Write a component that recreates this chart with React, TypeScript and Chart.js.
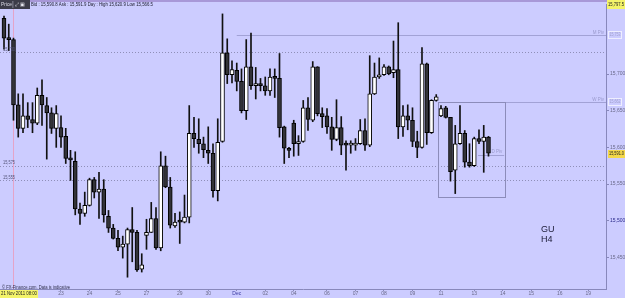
import { useEffect, useRef } from "react";
import { Chart, registerables } from "chart.js";
Chart.register(...registerables);

const opens = [15776,15749,15747,15658,15626,15643,15638,15633,15671,15657,15647,15626,15627,15615,15585,15581,15516,15510,15521,15556,15539,15543,15506,15490,15476,15464,15468,15488,15484,15434,15480,15484,15503,15463,15575,15546,15493,15499,15498,15505,15619,15611,15605,15596,15592,15541,15608,15729,15699,15705,15690,15650,15710,15684,15687,15684,15677,15696,15694,15628,15597,15633,15605,15608,15654,15637,15710,15646,15643,15628,15611,15627,15605,15603,15603,15605,15623,15603,15673,15696,15699,15710,15702,15706,15628,15643,15637,15608,15600,15714,15620,15664,15643,15654,15641,15569,15605,15619,15580,15575,15612,15608,15614];
const highs = [15779,15768,15749,15673,15673,15661,15661,15681,15692,15668,15654,15657,15643,15626,15596,15594,15524,15539,15558,15559,15566,15556,15514,15495,15487,15479,15490,15518,15487,15455,15502,15525,15518,15594,15588,15559,15510,15512,15535,15657,15641,15639,15614,15628,15605,15639,15782,15748,15718,15715,15707,15747,15756,15709,15694,15696,15707,15707,15728,15629,15600,15637,15616,15664,15668,15717,15710,15654,15653,15641,15665,15642,15609,15609,15612,15638,15639,15725,15715,15722,15713,15711,15745,15770,15657,15658,15654,15622,15736,15715,15665,15672,15657,15656,15641,15630,15657,15623,15605,15614,15624,15630,15615];
const lows = [15734,15732,15637,15614,15620,15627,15620,15631,15630,15584,15619,15600,15600,15578,15555,15508,15495,15506,15520,15531,15503,15498,15484,15475,15459,15449,15423,15444,15431,15430,15461,15484,15461,15459,15545,15490,15491,15469,15497,15497,15600,15592,15586,15578,15532,15527,15607,15687,15688,15677,15647,15638,15679,15666,15677,15671,15671,15668,15614,15578,15586,15588,15589,15607,15623,15635,15643,15627,15619,15596,15609,15590,15569,15592,15596,15604,15596,15601,15672,15694,15698,15699,15695,15612,15615,15624,15601,15586,15599,15604,15619,15663,15642,15640,15554,15537,15604,15573,15573,15574,15605,15566,15588];
const closes = [15749,15747,15658,15626,15643,15638,15633,15671,15658,15647,15626,15646,15614,15585,15583,15516,15510,15521,15556,15539,15543,15508,15490,15476,15464,15468,15488,15484,15433,15440,15484,15503,15463,15575,15546,15494,15498,15498,15505,15619,15612,15605,15597,15592,15541,15607,15729,15699,15706,15690,15650,15710,15684,15687,15684,15677,15696,15694,15627,15599,15596,15605,15608,15654,15638,15710,15646,15642,15628,15611,15627,15603,15603,15605,15605,15623,15603,15673,15696,15699,15710,15700,15706,15628,15643,15637,15608,15600,15714,15620,15664,15669,15653,15641,15567,15605,15619,15580,15575,15612,15608,15614,15592];

const xTickPositions = [12,18,24,30,37,43,49,55,61,68,74,80,86,92,99,105,111,117,123];
const xTickLabels = ["23","24","25","27","29","30","Dec","02","04","06","07","08","09","11","13","14","15","16","19"];
const yTickValues = [15450,15500,15550,15600,15650,15700];
const yTickLabels = ["15,450","15,500","15,550","15,600","15,650","15,700"];

const dottedLevels = [15730,15575,15555];
const dottedLabels = ["15,730","15,575","15,555"];
const pivotLevels = [15753,15662,15590];
const pivotNames = ["M Piv","W Piv","D Piv"];
const pivotLabels = ["15,753","15,662",""];
const pivotStarts = [49,91.4,99.8];
const pivotEnds = [126.74,126.74,105.3];
const boxX = [91.4,105.5];
const boxY = [15662,15532];
const cursorIndex = 2;
const topPriceLabel = "15,797.5";
const lastPrice = 15591;
const lastPriceLabel = "15,591.0";
const headerText = "Bid : 15,590.8 Ask : 15,591.9 Day : High 15,620.9 Low 15,566.5";

const X_MIN = -0.842;
const X_MAX = 126.74;
const Y_MIN = 15406.9;
const Y_MAX = 15795.5;
const FONT = "'Liberation Sans', Arial, sans-serif";

const decor = {
  id: "decor",
  beforeDraw(chart: any) {
    const { ctx, width, height } = chart;
    ctx.save();
    ctx.fillStyle = "#ccccff";
    ctx.fillRect(0, 0, width, height);
    ctx.fillStyle = "#a898d8";
    ctx.fillRect(0, 0, width, 2);
    ctx.restore();
  },
  beforeDatasetsDraw(chart: any) {
    const { ctx, chartArea: a, scales } = chart;
    const x = scales.x, y = scales.y;
    ctx.save();
    // cursor line
    const cx = Math.round(x.getPixelForValue(cursorIndex)) + 0.5;
    ctx.strokeStyle = "#e4a4c8";
    ctx.lineWidth = 1;
    ctx.beginPath();
    ctx.moveTo(cx, a.top);
    ctx.lineTo(cx, a.bottom);
    ctx.stroke();
    // dotted levels
    ctx.strokeStyle = "#8f8fb8";
    ctx.setLineDash([1, 2]);
    dottedLevels.forEach((v) => {
      const py = Math.round(y.getPixelForValue(v)) + 0.5;
      ctx.beginPath();
      ctx.moveTo(a.left, py);
      ctx.lineTo(a.right, py);
      ctx.stroke();
    });
    ctx.setLineDash([]);
    // pivots
    ctx.strokeStyle = "#a2a2d6";
    pivotLevels.forEach((v, i) => {
      const py = Math.round(y.getPixelForValue(v)) + 0.5;
      ctx.beginPath();
      ctx.moveTo(x.getPixelForValue(pivotStarts[i]), py);
      ctx.lineTo(x.getPixelForValue(pivotEnds[i]), py);
      ctx.stroke();
    });
    // box
    ctx.strokeStyle = "#8c8cba";
    const bx0 = Math.round(x.getPixelForValue(boxX[0])) + 0.5;
    const bx1 = Math.round(x.getPixelForValue(boxX[1])) + 0.5;
    const by0 = Math.round(y.getPixelForValue(boxY[0])) + 0.5;
    const by1 = Math.round(y.getPixelForValue(boxY[1])) + 0.5;
    ctx.strokeRect(bx0, by0, bx1 - bx0, by1 - by0);
    ctx.restore();
  },
  afterDraw(chart: any) {
    const { ctx, chartArea: a, scales, width } = chart;
    const x = scales.x, y = scales.y;
    ctx.save();
    ctx.textBaseline = "middle";
    // pivot names
    ctx.font = `4.5px ${FONT}`;
    ctx.fillStyle = "#9a9acc";
    pivotLevels.forEach((v, i) => {
      const py = y.getPixelForValue(v);
      const ex = x.getPixelForValue(pivotEnds[i]);
      ctx.textAlign = "right";
      ctx.fillText(pivotNames[i], ex - 2, py - 2.5);
    });
    // pivot boxed labels at axis
    ctx.textAlign = "left";
    pivotLevels.forEach((v, i) => {
      if (!pivotLabels[i]) return;
      const py = Math.round(y.getPixelForValue(v));
      ctx.strokeStyle = "#eeeeff";
      ctx.strokeRect(a.right + 2.5, py - 3.5, 13, 7);
      ctx.fillStyle = "#a0a0cc";
      ctx.fillText(pivotLabels[i], a.right + 3.5, py, 11);
    });
    // dotted labels on the left
    ctx.fillStyle = "#55557a";
    dottedLevels.forEach((v, i) => {
      const py = y.getPixelForValue(v);
      ctx.fillText(dottedLabels[i], 3, py - 2.5, 12);
    });
    // price box header
    ctx.fillStyle = "#3c3c48";
    ctx.fillRect(0, 0, 30, 9);
    ctx.fillStyle = "#dddde8";
    ctx.font = `5px ${FONT}`;
    ctx.fillText("Price", 1, 4.5, 11);
    ctx.fillStyle = "#9999aa";
    ctx.fillRect(12.5, 1, 0.8, 7);
    ctx.fillStyle = "#e8e8f0";
    ctx.fillText("⤢ ▣", 15, 4.5, 14);
    ctx.fillStyle = "#1c1c2c";
    ctx.font = `5px ${FONT}`;
    ctx.fillText(headerText, 31, 4.5, 122);
    // top-right yellow label
    ctx.fillStyle = "#f4f46a";
    ctx.fillRect(a.right + 1, 0, width - a.right - 1, 9);
    ctx.fillStyle = "#222";
    ctx.fillText(topPriceLabel, a.right + 2, 4.5, width - a.right - 3);
    // last price label
    const lp = Math.round(y.getPixelForValue(lastPrice));
    ctx.fillStyle = "#f4d84a";
    ctx.fillRect(a.right + 2, lp - 4, width - a.right - 2, 8);
    ctx.fillStyle = "#222";
    ctx.fillText(lastPriceLabel, a.right + 3, lp, width - a.right - 4);
    // GU / H4
    ctx.fillStyle = "#20203c";
    ctx.font = `9px ${FONT}`;
    ctx.fillText("GU", 541, 230);
    ctx.fillText("H4", 541, 240);
    // bottom text
    ctx.font = `5px ${FONT}`;
    ctx.fillStyle = "#30304c";
    ctx.fillText("© FX-Finance.com. Data is indicative", 2, 287.5, 68);
    ctx.fillStyle = "#f4f46a";
    ctx.fillRect(0, 290, 38, 8);
    ctx.fillStyle = "#222";
    ctx.fillText("21 Nov 2011 08:00", 1, 294, 36);
    ctx.restore();
  },
};

export default function App() {
  const ref = useRef<HTMLCanvasElement | null>(null);
  useEffect(() => {
    document.body.style.margin = "0";
    const canvas = ref.current!;
    const up = closes.map((c, i) => c >= opens[i]);
    const chart = new Chart(canvas, {
      type: "bar",
      data: {
        datasets: [
          {
            label: "bodies",
            data: opens.map((o, i) => ({ x: i, y: [Math.min(o, closes[i]), Math.max(o, closes[i])] })) as any,
            backgroundColor: up.map((u) => (u ? "#ffffff" : "#333338")),
            borderColor: "#000000",
            borderWidth: 1,
            borderSkipped: false,
            barThickness: 4,
            minBarLength: 2,
            grouped: false,
            order: 0,
          } as any,
          {
            label: "wicks",
            data: opens.map((_, i) => ({ x: i, y: [lows[i], highs[i]] })) as any,
            backgroundColor: "#111111",
            borderWidth: 0,
            barThickness: 1,
            grouped: false,
            order: 1,
          } as any,
        ],
      },
      options: {
        responsive: false,
        animation: false,
        devicePixelRatio: 1,
        layout: { padding: { top: 3, left: 0, right: 0, bottom: 0 } },
        plugins: { legend: { display: false }, tooltip: { enabled: false } },
        scales: {
          x: {
            type: "linear",
            min: X_MIN,
            max: X_MAX,
            bounds: "data",
            offset: false,
            position: "bottom",
            afterBuildTicks: (s: any) => {
              s.ticks = xTickPositions.map((v) => ({ value: v }));
            },
            afterFit: (s: any) => {
              s.height = 9;
            },
            ticks: {
              autoSkip: false,
              maxRotation: 0,
              minRotation: 0,
              padding: 0,
              font: { size: 5, family: FONT },
              color: (c: any) => (xTickLabels[c.index] === "Dec" ? "#3a3aa0" : "#6a6a8a"),
              callback: (_v: any, i: number) => xTickLabels[i],
            },
            grid: { drawOnChartArea: false, offset: false, tickLength: 2, color: "#8888bb" },
            border: { display: true, color: "#8888bb" },
          } as any,
          y: {
            type: "linear",
            position: "right",
            min: Y_MIN,
            max: Y_MAX,
            bounds: "data",
            afterBuildTicks: (s: any) => {
              s.ticks = yTickValues.map((v) => ({ value: v }));
            },
            afterFit: (s: any) => {
              s.width = 19;
            },
            ticks: {
              padding: 1,
              font: { size: 5, family: FONT },
              color: (c: any) => (yTickValues[c.index] === 15500 ? "#2a2a8a" : "#6a6a8a"),
              callback: (_v: any, i: number) => yTickLabels[i],
            },
            grid: { drawOnChartArea: false, tickLength: 3, color: "#8888bb" },
            border: { display: true, color: "#8888bb" },
          } as any,
        },
      },
      plugins: [decor],
    });
    return () => chart.destroy();
  }, []);
  return (
    <div style={{ width: 625, height: 298 }}>
      <canvas ref={ref} width={625} height={298} style={{ display: "block" }} />
    </div>
  );
}
